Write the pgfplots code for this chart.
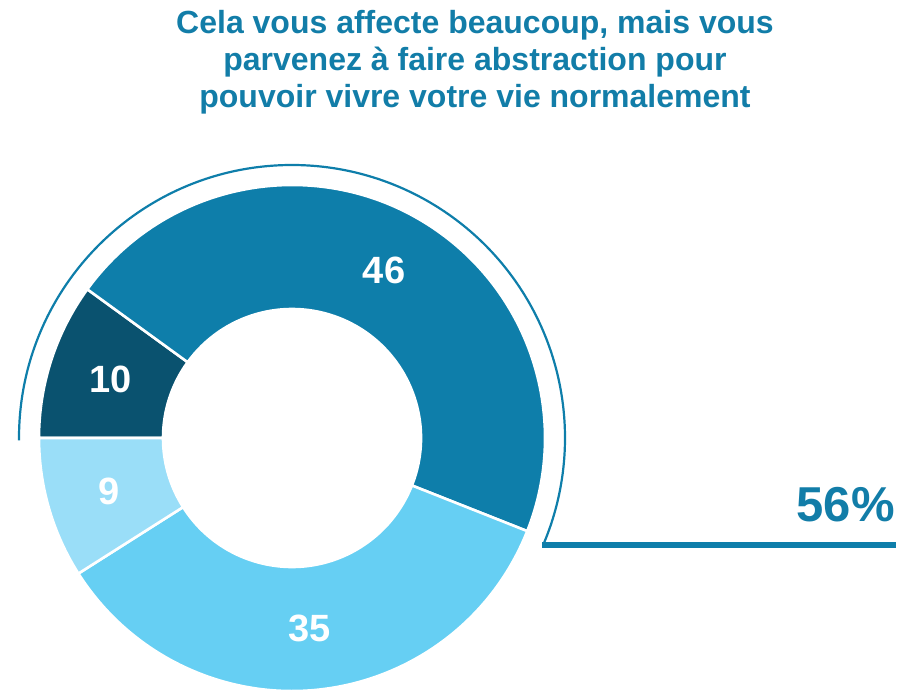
\documentclass[border=0pt]{standalone}
\usepackage{pgfplots}
\pgfplotsset{compat=1.18}
\usetikzlibrary{calc}
\usepackage{fontspec}
\setmainfont{Liberation Sans}
\definecolor{cdark}{HTML}{0A526F}
\definecolor{cmid}{HTML}{0E7EAA}
\definecolor{clight}{HTML}{66CFF3}
\definecolor{cpale}{HTML}{9ADEF8}
\definecolor{ctitle}{HTML}{127DA8}

\begin{document}
\begin{tikzpicture}
\begin{axis}[
    scale only axis,
    width=449pt, height=347pt,
    xmin=0, xmax=898, ymin=0, ymax=694,
    hide axis, clip=false,
]
% page frame, same size as the axis box
\path (axis cs:0,0) rectangle (axis cs:898,694);
% donut: centre (292,256) in px units, 1 unit = 0.5pt
\pgfplotsextra{%
    \def\cx{292}\def\cy{256}%
    \def\ro{126.5pt}\def\ri{64.5pt}\def\rm{95.5pt}%
    \gdef\startang{180}%
    \foreach \v/\c in {10/cdark,46/cmid,35/clight,9/cpale} {%
        \pgfmathsetmacro\endang{\startang-3.6*\v}%
        \pgfmathsetmacro\midang{(\startang+\endang)/2}%
        \fill[overlay, \c, draw=white, line width=1.3pt]
            (axis cs:\cx,\cy) ++(\startang:\ro)
            arc[start angle=\startang, end angle=\endang, radius=\ro]
            -- ++(\endang+180:\ro-\ri)
            arc[start angle=\endang, end angle=\startang, radius=\ri]
            -- cycle;
        \node[overlay, text=white, font=\bfseries\fontsize{19}{21}\selectfont]
            at ($(axis cs:\cx,\cy)+(\midang:\rm)$) {\v};
        \xdef\startang{\endang}%
    }%
    % bracket arc over 10 + 46 = 56
    \draw[overlay, cmid, line width=1.1pt]
        (axis cs:\cx,\cy) ++(180.5:136.5pt)
        arc[start angle=180.5, end angle=-23.1, radius=136.5pt];
    \draw[overlay, cmid, line width=2.6pt] (axis cs:542,149) -- (axis cs:896,149);
}
\node[overlay, anchor=base east, inner sep=0pt, text=ctitle, font=\bfseries\fontsize{24.5}{26}\selectfont]
    at (axis cs:895,172) {56\%};
\node[overlay, align=center, text=ctitle, font=\bfseries\fontsize{16}{18.5}\selectfont]
    at (axis cs:475,632) {Cela vous affecte beaucoup, mais vous\\parvenez à faire abstraction pour\\pouvoir vivre votre vie normalement};
\end{axis}
\end{tikzpicture}
\end{document}
